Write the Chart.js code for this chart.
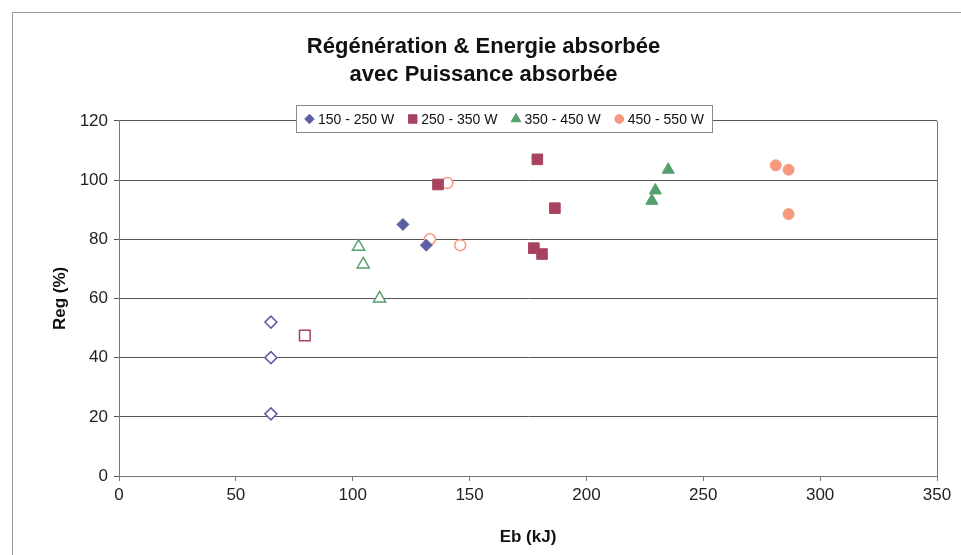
<!DOCTYPE html>
<html>
<head>
<meta charset="utf-8">
<script src="https://cdn.jsdelivr.net/npm/chart.js@4.4.1/dist/chart.umd.min.js"></script>
<style>
 html, body { margin: 0; padding: 0; background: #fff; }
</style>
</head>
<body>
<canvas id="regChart" width="961" height="555"></canvas>
<script>
// series names (legend)
const seriesLabels = ['150 - 250 W', '250 - 350 W', '350 - 450 W', '450 - 550 W'];

// filled markers, per power band
const w150x = [121.5, 131.5];
const w150y = [85, 78];
const w250x = [136.5, 179, 186.5, 177.5, 181];
const w250y = [98.5, 107, 90.5, 77, 75];
const w350x = [235, 229.5, 228];
const w350y = [103.5, 96.5, 93];
const w450x = [281, 286.5, 286.5];
const w450y = [105, 103.5, 88.5];

// hollow markers, per power band
const w150xOpen = [65, 65, 65];
const w150yOpen = [52, 40, 21];
const w250xOpen = [79.5];
const w250yOpen = [47.5];
const w350xOpen = [102.5, 104.5, 111.5];
const w350yOpen = [77.5, 71.5, 60];
const w450xOpen = [140.5, 133, 146];
const w450yOpen = [99, 80, 78];

const xTicks = [0, 50, 100, 150, 200, 250, 300, 350];
const yTicks = [0, 20, 40, 60, 80, 100, 120];

const colors = ['#5c60a0', '#a8435f', '#55a070', '#f59a7e'];
const shapes = ['rectRot', 'rect', 'triangle', 'circle'];
const radii = [6, 7.5, 7, 5.5];

const FONT = '"Liberation Sans", Arial, sans-serif';

function pts(xs, ys) {
 return xs.map((x, i) => ({ x: x, y: ys[i] }));
}

const filled = [pts(w150x, w150y), pts(w250x, w250y), pts(w350x, w350y), pts(w450x, w450y)];
const hollow = [pts(w150xOpen, w150yOpen), pts(w250xOpen, w250yOpen), pts(w350xOpen, w350yOpen), pts(w450xOpen, w450yOpen)];

let datasets = [];
filled.forEach((d, i) => {
 datasets.push({
  label: seriesLabels[i],
  data: d,
  pointStyle: shapes[i],
  pointRadius: radii[i],
  pointHoverRadius: radii[i],
  backgroundColor: colors[i],
  borderColor: colors[i],
  borderWidth: 1,
 });
});
hollow.forEach((d, i) => {
 datasets.push({
  label: seriesLabels[i] + ' (b)',
  data: d,
  pointStyle: shapes[i],
  pointRadius: radii[i],
  pointHoverRadius: radii[i],
  backgroundColor: '#ffffff',
  borderColor: colors[i],
  borderWidth: 1.5,
 });
});

// legend box sitting on the top gridline, like the Excel original
const legendBox = {
 id: 'legendBox',
 afterDraw(chart) {
  const ctx = chart.ctx;
  const items = chart.data.datasets.slice(0, 4);
  ctx.save();
  ctx.font = '14px ' + FONT;
  const widths = items.map(d => ctx.measureText(d.label).width);
  const mark = 11, gap = 3, space = 13, pad = 8;
  const total = widths.reduce((a, b) => a + b, 0) + items.length * (mark + gap) + space * (items.length - 1);
  const cx = 504, cy = 119;
  const x0 = cx - total / 2;
  ctx.fillStyle = '#fff';
  ctx.fillRect(x0 - pad, cy - 14, total + 2 * pad, 28);
  ctx.strokeStyle = '#8a8a8a';
  ctx.lineWidth = 1;
  ctx.strokeRect(Math.round(x0 - pad) + 0.5, cy - 13.5, Math.round(total + 2 * pad), 27);
  let x = x0;
  items.forEach((d, i) => {
   ctx.fillStyle = d.backgroundColor;
   ctx.strokeStyle = d.borderColor;
   ctx.lineWidth = 1;
   Chart.helpers.drawPoint(ctx, { pointStyle: d.pointStyle, radius: d.pointRadius * 0.8, borderWidth: 1, rotation: 0 }, x + mark / 2, cy);
   ctx.fillStyle = '#111';
   ctx.textBaseline = 'middle';
   ctx.textAlign = 'left';
   ctx.fillText(d.label, x + mark + gap, cy + 1);
   x += mark + gap + widths[i] + space;
  });
  ctx.restore();
 }
};

// plot frame (right edge) and outer chart frame
const frames = {
 id: 'frames',
 beforeDatasetsDraw(chart) {
  const { ctx, chartArea } = chart;
  ctx.save();
  ctx.strokeStyle = '#777';
  ctx.lineWidth = 1;
  ctx.beginPath();
  ctx.moveTo(Math.round(chartArea.right) + 0.5, chartArea.top);
  ctx.lineTo(Math.round(chartArea.right) + 0.5, chartArea.bottom);
  ctx.stroke();
  ctx.strokeStyle = '#999';
  ctx.beginPath();
  ctx.moveTo(12.5, 560);
  ctx.lineTo(12.5, 12.5);
  ctx.lineTo(961, 12.5);
  ctx.stroke();
  ctx.restore();
 }
};

let regCtx = document.getElementById('regChart').getContext('2d');
let regChart = new Chart(regCtx, {
 type: 'scatter',
 data: { datasets: datasets },
 options: {
  responsive: false,
  animation: false,
  layout: { padding: { top: 33, right: 24, left: 30, bottom: 0 } },
  plugins: {
   legend: { display: false },
   tooltip: { enabled: false },
   title: {
    display: true,
    text: ['Régénération & Energie absorbée', 'avec Puissance absorbée'],
    color: '#111',
    font: { family: FONT, size: 22, weight: 'bold', lineHeight: 1.27 },
    padding: { top: 0, bottom: 32 },
   },
  },
  scales: {
   x: {
    type: 'linear',
    min: xTicks[0],
    max: xTicks[xTicks.length - 1],
    afterBuildTicks: (s) => { s.ticks = xTicks.map(v => ({ value: v })); },
    afterFit: (s) => { s.height = 79; },
    ticks: { color: '#222', font: { family: FONT, size: 17 }, padding: 4 },
    grid: { drawOnChartArea: false, color: '#777', tickLength: 5 },
    border: { color: '#777' },
    title: {
     display: true,
     text: 'Eb (kJ)',
     color: '#111',
     font: { family: FONT, size: 17, weight: 'bold' },
     padding: { top: 0, bottom: 7 },
    },
   },
   y: {
    min: yTicks[0],
    max: yTicks[yTicks.length - 1],
    afterBuildTicks: (s) => { s.ticks = yTicks.map(v => ({ value: v })); },
    afterFit: (s) => { s.width = 89; },
    ticks: { color: '#222', font: { family: FONT, size: 17 }, padding: 6 },
    grid: { color: '#555', tickLength: 5 },
    border: { color: '#777' },
    title: {
     display: true,
     text: 'Reg (%)',
     color: '#111',
     font: { family: FONT, size: 17, weight: 'bold' },
     padding: { top: 20, bottom: 0 },
    },
   },
  },
 },
 plugins: [frames, legendBox],
});
</script>
</body>
</html>
